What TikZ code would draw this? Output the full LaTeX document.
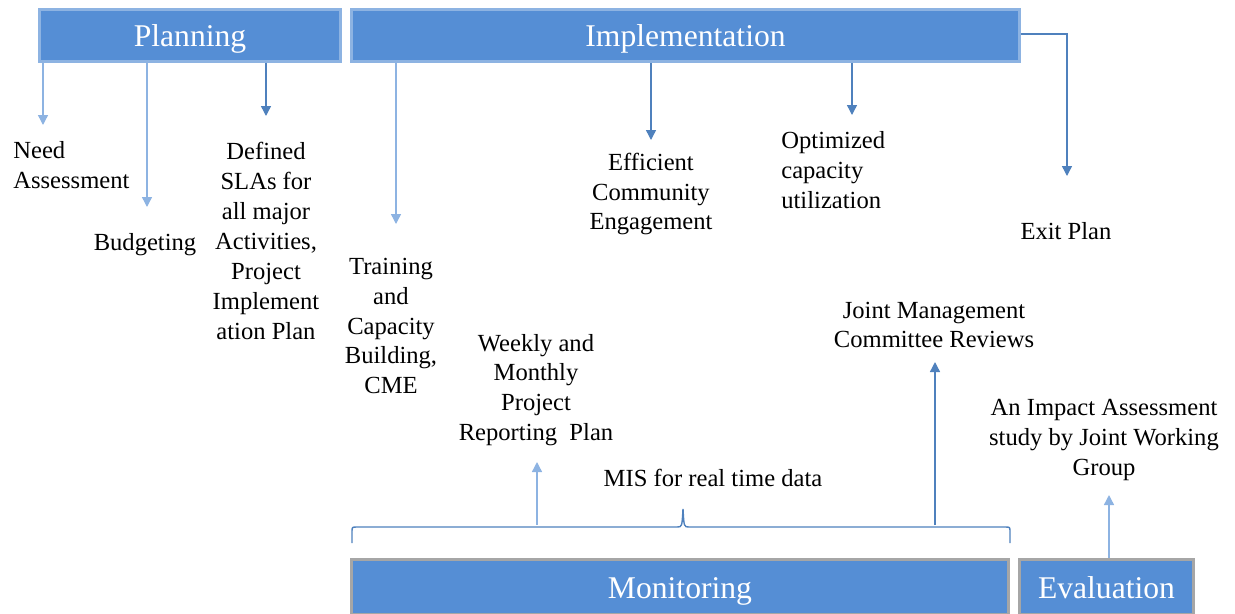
\documentclass[tikz,border=0pt]{standalone}
\usepackage{fontspec}
\setmainfont{Liberation Serif}
\usetikzlibrary{arrows.meta}
\definecolor{boxblue}{HTML}{558ED5}
\definecolor{boxedge}{HTML}{8DB3E2}
\definecolor{lightline}{HTML}{8DB3E2}
\definecolor{darkline}{HTML}{4F81BD}
\definecolor{greyedge}{HTML}{A6A6A6}
\tikzstyle{phase}=[fill=boxblue, draw=boxedge, line width=1.7pt, text=white,
    font=\fontsize{18}{22}\selectfont, minimum height=1.04cm, inner sep=0pt,
    text height=15pt, text depth=2pt]
\tikzstyle{phase_low}=[phase, draw=greyedge, minimum height=1.1cm]
\tikzstyle{item}=[align=center, font=\fontsize{14}{17}\selectfont, inner sep=0pt]
\tikzstyle{link_light}=[draw=lightline, line width=0.8pt,
    -{Triangle[width=0.2cm,length=0.2cm]}]
\tikzstyle{link_dark}=[link_light, draw=darkline]

\begin{document}
\begin{tikzpicture}[x=0.02cm, y=-0.02cm]
              \useasboundingbox (0,0) rectangle (1235,613);
              \node[phase, minimum width=6.02cm] (planning) at (190,35.5){Planning};
              \node[phase, minimum width=13.36cm] (implementation) at (685.5,35.5){Implementation};
              \node[phase_low, minimum width=13.14cm] (monitoring) at (680,587){Monitoring};
              \node[phase_low, minimum width=3.48cm] (evaluation) at (1106.5,587){Evaluation};
              \node[item, anchor=west, align=left] (need) at (13,165){Need\\Assessment};
              \node[item] (budget) at (145,245){Budgeting};
              \node[item] (sla) at (266,241){Defined\\SLAs for\\all major\\Activities,\\Project\\Implement\\ation Plan};
              \node[item] (training) at (391,326){Training\\and\\Capacity\\Building,\\CME};
              \node[item] (community) at (651,194){Efficient\\Community\\Engagement};
              \node[item, anchor=west, align=left] (capacity) at (781,170){Optimized\\capacity\\utilization};
              \node[item] (exit) at (1066,231){Exit Plan};
              \node[item] (jmc) at (934,325){Joint Management\\Committee Reviews};
              \node[item] (report) at (536,390){Weekly and\\Monthly\\Project\\Reporting~ Plan};
              \node[item] (mis) at (713,478){MIS for real time data};
              \node[item] (impact) at (1104,440){An Impact Assessment\\study by Joint Working\\Group};
              \coordinate (need_tip) at (43,125);
              \coordinate (budget_tip) at (147,207);
              \coordinate (sla_tip) at (266,116);
              \coordinate (training_tip) at (396,224);
              \coordinate (community_tip) at (651,140);
              \coordinate (capacity_tip) at (852,115);
              \coordinate (exit_turn) at (1067,34);
              \coordinate (exit_tip) at (1067,176);
              \coordinate (report_foot) at (537,525);
              \coordinate (report_tip) at (537,462);
              \coordinate (jmc_foot) at (935,525);
              \coordinate (jmc_tip) at (935,362);
              \coordinate (impact_tip) at (1109,495);
              \draw[link_light](planning.south -| need_tip) -- (need_tip);
              \draw[link_light](planning.south -| budget_tip) -- (budget_tip);
              \draw[link_dark](planning.south -| sla_tip) -- (sla_tip);
              \draw[link_light](implementation.south -| training_tip) -- (training_tip);
              \draw[link_dark](implementation.south -| community_tip) -- (community_tip);
              \draw[link_dark](implementation.south -| capacity_tip) -- (capacity_tip);
              \draw[link_dark](implementation.east |- exit_turn) -- (exit_turn) -- (exit_tip);
              \draw[darkline, line width=0.8pt] (352,543) -- (352,532) .. controls (352,527) .. (357,527)
                -- (677,527) .. controls (682,527) .. (683,509) .. controls (684,527) .. (689,527)
                -- (1005,527) .. controls (1010,527) .. (1010,532) -- (1010,543);
              \draw[link_light](report_foot) -- (report_tip);
              \draw[link_dark](jmc_foot) -- (jmc_tip);
              \draw[link_light](evaluation.north -| impact_tip) -- (impact_tip);
            \end{tikzpicture}
\end{document}
